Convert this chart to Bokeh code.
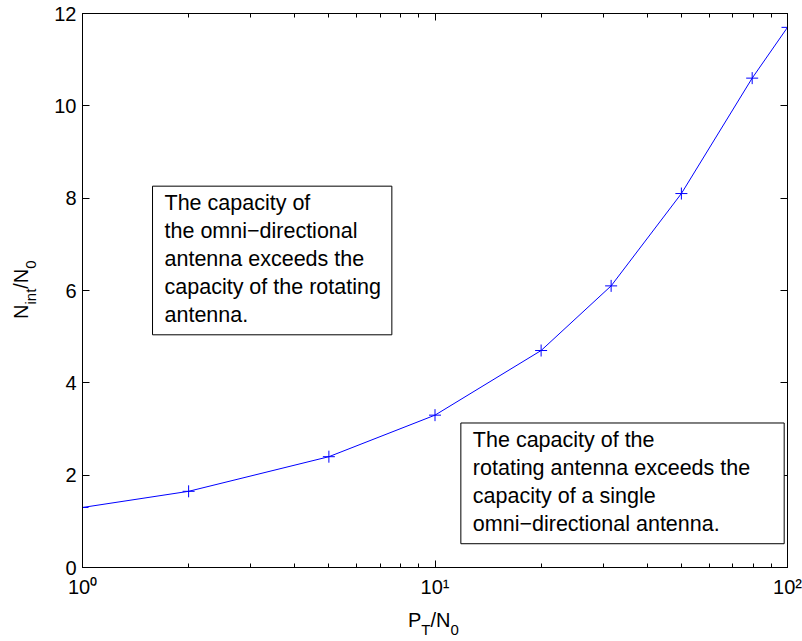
from bokeh.plotting import figure
from bokeh.models import (Range1d, LogAxis, LinearAxis, FixedTicker,
                          CustomJSTickFormatter, Label, Div)
from bokeh.layouts import row, column
from bokeh.embed import file_html
from bokeh.resources import INLINE

# Interference-to-noise ratio against transmit power-to-noise ratio
pt_n0 = [1, 2, 5, 10, 20, 31.6, 50, 79.4, 100]
nint_n0 = [1.30, 1.65, 2.40, 3.30, 4.70, 6.10, 8.10, 10.60, 11.70]

x_major = [1, 10, 100]
x_minor = [2, 3, 4, 5, 6, 7, 8, 9, 20, 30, 40, 50, 60, 70, 80, 90]
y_major = [0, 2, 4, 6, 8, 10, 12]

note_omni = ("The capacity of\nthe omni\u2212directional\nantenna exceeds the\n"
             "capacity of the rotating\nantenna.")
note_rot = ("The capacity of the\nrotating antenna exceeds the\n"
            "capacity of a single\nomni\u2212directional antenna.")

FONT = "Liberation Sans"

p = figure(width=762, height=603, x_axis_type="log",
           x_range=Range1d(1, 100), y_range=Range1d(0, 12),
           output_backend="svg", toolbar_location=None,
           min_border_left=42, min_border_right=15,
           min_border_top=13, min_border_bottom=36)
p.xgrid.visible = False
p.ygrid.visible = False
p.outline_line_color = "black"
p.background_fill_color = "white"
p.border_fill_color = "white"

x_ticker = FixedTicker(ticks=x_major, minor_ticks=x_minor)
y_ticker = FixedTicker(ticks=y_major, minor_ticks=[])
sup_fmt = CustomJSTickFormatter(code="""
const sup = {0: '\\u2070', 1: '\\u00b9', 2: '\\u00b2', 3: '\\u00b3'};
return '10' + sup[Math.round(Math.log10(tick))];
""")
blank_fmt = CustomJSTickFormatter(code="return '';")


def style_axis(ax):
    ax.major_tick_in = 7
    ax.major_tick_out = 0
    ax.minor_tick_in = 4
    ax.minor_tick_out = 0
    ax.axis_line_color = "black"
    ax.major_tick_line_color = "black"
    ax.minor_tick_line_color = "black"
    ax.major_label_text_font = FONT
    ax.major_label_text_font_size = "20px"
    ax.major_label_text_color = "black"


xa = p.xaxis[0]
xa.ticker = x_ticker
xa.formatter = sup_fmt
style_axis(xa)
xa.major_label_standoff = 8

ya = p.yaxis[0]
ya.ticker = y_ticker
style_axis(ya)
ya.major_label_standoff = 6

top = LogAxis(ticker=x_ticker, formatter=blank_fmt, major_label_standoff=0)
style_axis(top)
p.add_layout(top, "above")

right = LinearAxis(ticker=y_ticker, formatter=blank_fmt, major_label_standoff=0)
style_axis(right)
p.add_layout(right, "right")

# curve with "+" markers
p.line(pt_n0, nint_n0, line_color="#0000ff", line_width=1)
p.scatter(pt_n0, nint_n0, marker="cross", size=12, line_color="#0000ff",
          line_width=1)

# boxed notes
notes = [
    (1.58, 8.26, note_omni, dict(left=12, right=11, top=5, bottom=8)),
    (11.84, 3.13, note_rot, dict(left=12, right=34, top=5, bottom=8)),
]
for nx, ny, txt, pad in notes:
    p.add_layout(Label(x=nx, y=ny, text=txt, anchor="top_left",
                       text_font=FONT, text_font_size="21.5px",
                       text_line_height=1.163, text_color="black",
                       border_line_color="black", border_line_width=1,
                       background_fill_color="white", padding=pad))

SUB = "font-size:15px;vertical-align:-8px;"
BASE = ("position:absolute;white-space:nowrap;font-family:'Liberation Sans';"
        "font-size:20px;line-height:20px;color:black;")

# axis titles with subscripts
y_title = Div(width=40, height=603, margin=0, text=(
    "<div style='position:relative;width:40px;height:603px;'>"
    f"<div style=\"{BASE}left:11px;top:319px;transform-origin:0 0;"
    "transform:rotate(-90deg);\">"
    f"N<sub style='{SUB}'>int</sub>/N<sub style='{SUB}'>0</sub></div></div>"))

x_title = Div(width=762, height=38, margin=0, text=(
    "<div style='position:relative;width:762px;height:38px;'>"
    f"<div style=\"{BASE}left:368px;top:7px;\">"
    f"P<sub style='{SUB}'>T</sub>/N<sub style='{SUB}'>0</sub></div></div>"))

layout = row(y_title, column(p, x_title, spacing=0), spacing=0)

open("out.html", "w", encoding="utf-8").write(file_html(layout, INLINE))
